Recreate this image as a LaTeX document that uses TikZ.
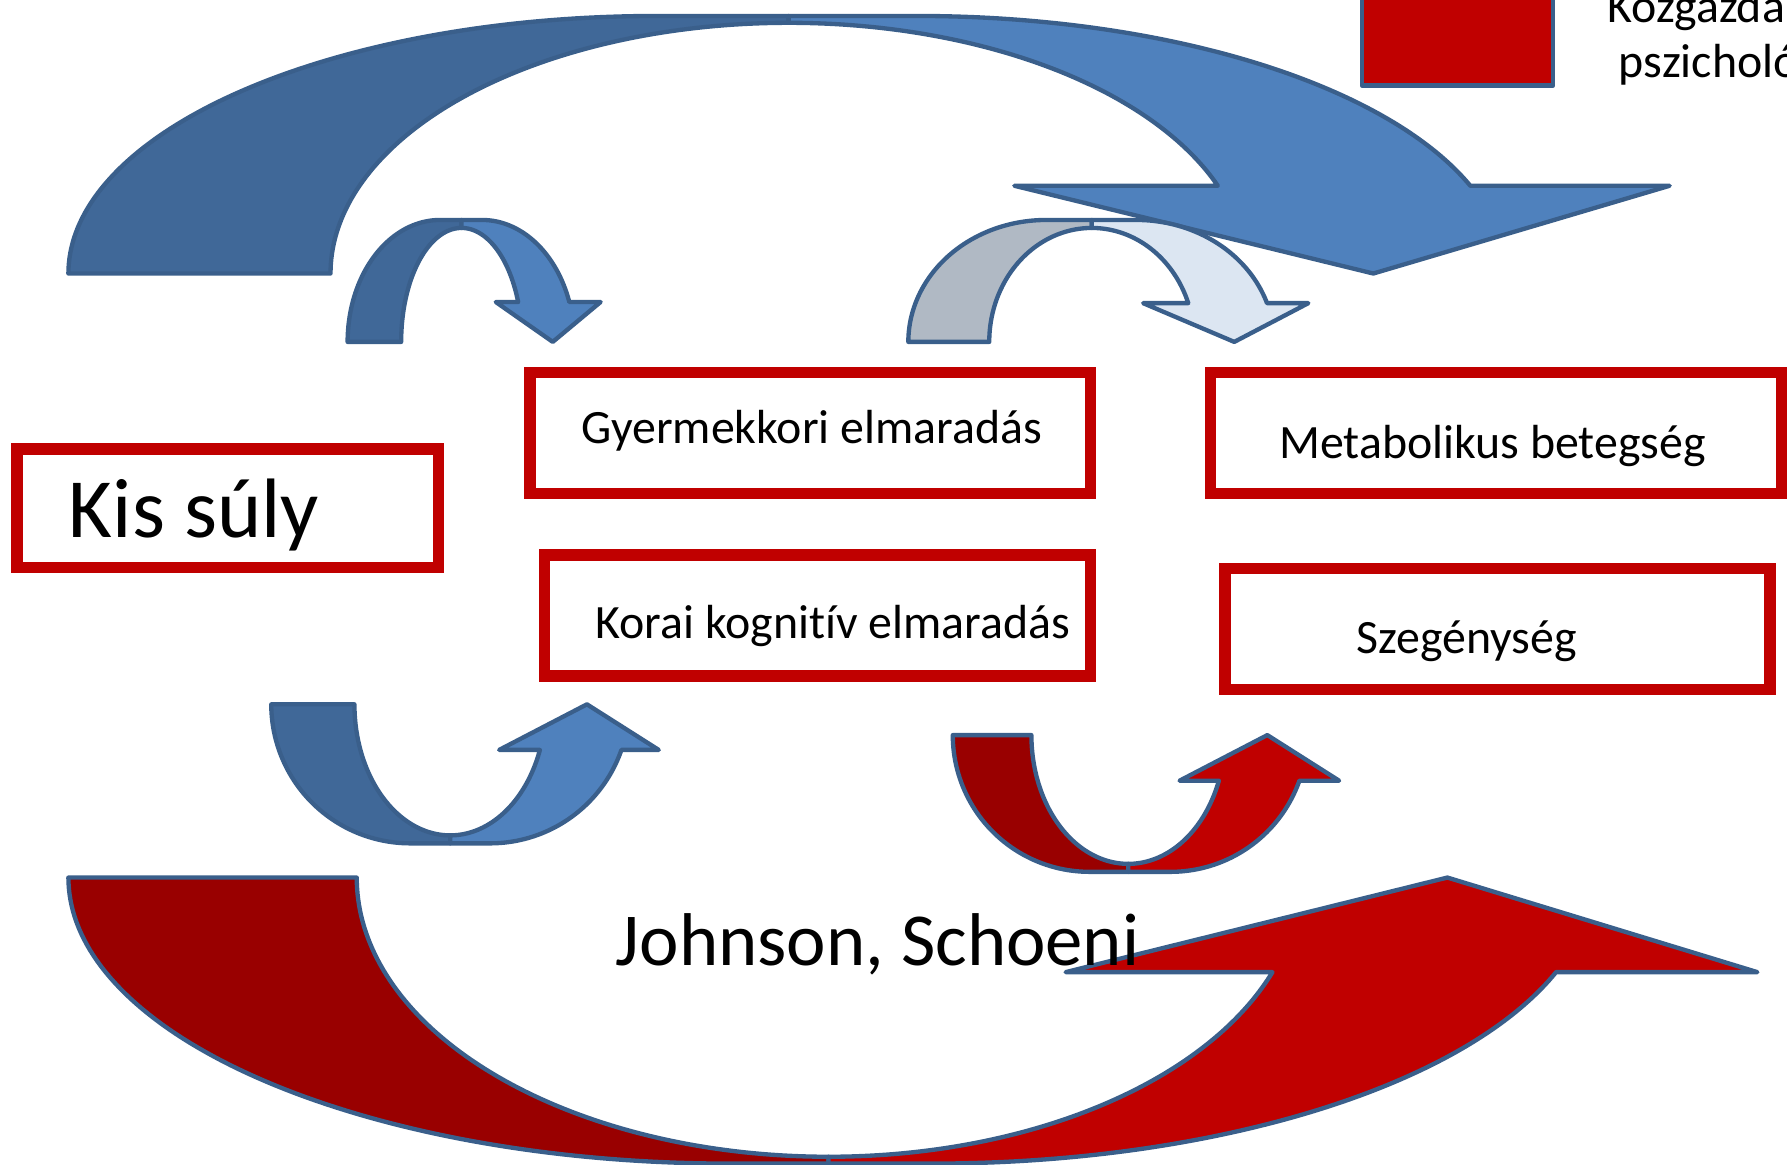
\documentclass[tikz,border=0pt]{standalone}
\usepackage{fontspec}
\setmainfont{Carlito}[Ligatures=NoCommon]
\definecolor{edge}{HTML}{3A5F8B}
\definecolor{bdark}{HTML}{406898}
\definecolor{blight}{HTML}{4F81BD}
\definecolor{greyband}{HTML}{B0B9C4}
\definecolor{paleband}{HTML}{DCE6F2}
\definecolor{rdark}{HTML}{990000}
\definecolor{rlight}{HTML}{C00000}
\begin{document}
\begin{tikzpicture}[x=0.5pt,y=-0.5pt,
  band/.style={draw=edge,line width=1.9pt,line join=round},
  redbox/.style={draw=rlight,line width=5pt,fill=white},
  boxtext/.style={font=\fontsize{21pt}{25pt}\selectfont,anchor=base west,inner sep=0pt},
  bigtext/.style={font=\fontsize{37pt}{44pt}\selectfont,anchor=base west,inner sep=0pt},
  legtext/.style={font=\fontsize{21pt}{25pt}\selectfont,anchor=base west,inner sep=0pt}]
\useasboundingbox (0,0) rectangle (1568,1022);
\clip (0,0) rectangle (1568,1022);

% ---- big top arrow (curved down) ----
\path[band,fill=bdark] plot[domain=180:90,samples=80] ({576+516*cos(\x)},{240-226*sin(\x)})
  -- (692,14) -- plot[domain=90:180,samples=80] ({692+402*cos(\x)},{240-220*sin(\x)}) -- cycle;
\path[band,fill=blight] (692,14) -- plot[domain=90:19.92,samples=80] ({805+516*cos(\x)},{240-226*sin(\x)})
  -- (1465,163) -- (1205,240) -- (890,163)
  -- plot[domain=20.49:90,samples=80] ({692+402*cos(\x)},{240-220*sin(\x)}) -- cycle;

% ---- small top-left arrow ----
\path[band,fill=bdark] plot[domain=180:90,samples=50] ({386+81*cos(\x)},{300-107*sin(\x)})
  -- (405,193) -- plot[domain=90:180,samples=50] ({405+53*cos(\x)},{300-100*sin(\x)}) -- cycle;
\path[band,fill=blight] (405,193) -- plot[domain=90:19.09,samples=50] ({423+81*cos(\x)},{300-107*sin(\x)})
  -- (527,265) -- (485,300) -- (435,265)
  -- plot[domain=20.49:90,samples=50] ({405+53*cos(\x)},{300-100*sin(\x)}) -- cycle;

% ---- small top-right arrow ----
\path[band,fill=greyband] plot[domain=180:90,samples=50] ({918+121*cos(\x)},{300-107*sin(\x)})
  -- (958,193) -- plot[domain=90:180,samples=50] ({958+90*cos(\x)},{300-100*sin(\x)}) -- cycle;
\path[band,fill=paleband] (958,193) -- plot[domain=90:18.53,samples=50] ({997+121*cos(\x)},{300-107*sin(\x)})
  -- (1148,266) -- (1083,300) -- (1003,266)
  -- plot[domain=19.88:90,samples=50] ({958+90*cos(\x)},{300-100*sin(\x)}) -- cycle;

% ---- small bottom-left arrow (curved up) ----
\path[band,fill=bdark] plot[domain=180:270,samples=50] ({360+122*cos(\x)},{618-122*sin(\x)})
  -- (395,740) -- plot[domain=270:180,samples=50] ({395+84*cos(\x)},{618-115*sin(\x)}) -- cycle;
\path[band,fill=blight] (395,740) -- plot[domain=270:340.86,samples=50] ({430+122*cos(\x)},{618-122*sin(\x)})
  -- (578,658) -- (515,618) -- (438,658)
  -- plot[domain=339.65:270,samples=50] ({395+84*cos(\x)},{618-115*sin(\x)}) -- cycle;

% ---- small bottom-right arrow (curved up, red) ----
\path[band,fill=rdark] plot[domain=180:270,samples=50] ({956+120*cos(\x)},{645-120*sin(\x)})
  -- (990,765) -- plot[domain=270:180,samples=50] ({990+85*cos(\x)},{645-113*sin(\x)}) -- cycle;
\path[band,fill=rlight] (990,765) -- plot[domain=270:340.53,samples=50] ({1027+120*cos(\x)},{645-120*sin(\x)})
  -- (1175,685) -- (1112,645) -- (1035,685)
  -- plot[domain=339.27:270,samples=50] ({990+85*cos(\x)},{645-113*sin(\x)}) -- cycle;

% ---- big bottom arrow (curved up, red) ----
\path[band,fill=rdark] plot[domain=180:270,samples=80] ({640+580*cos(\x)},{770-251*sin(\x)})
  -- (727,1021) -- plot[domain=270:180,samples=80] ({727+414*cos(\x)},{770-245*sin(\x)}) -- cycle;
\path[band,fill=rlight] (727,1021) -- plot[domain=270:340.69,samples=80] ({818+580*cos(\x)},{770-251*sin(\x)})
  -- (1542,853) -- (1270,770) -- (935,853)
  -- plot[domain=340.2:270,samples=80] ({727+414*cos(\x)},{770-245*sin(\x)}) -- cycle;

% ---- boxes ----
\draw[redbox] (15,394) rectangle (385,498);
\draw[redbox] (465,327) rectangle (957,433);
\draw[redbox] (1062,327) rectangle (1563,433);
\draw[redbox] (478,487) rectangle (957,593);
\draw[redbox] (1075,499) rectangle (1553,605);

\node[bigtext] (kis) at (60,472) {Kis súly};
\node[boxtext] (gyer) at (510,389) {Gyermekkori elmaradás};
\node[boxtext] (meta) at (1122,402) {Metabolikus betegség};
\node[boxtext] (korai) at (522,560) {Korai kognitív elmaradás};
\node[boxtext] (szeg) at (1190,573) {Szegénység};

% ---- legend ----
\draw[fill=rlight,draw=edge,line width=1.8pt,line join=round] (1195,-10) rectangle (1363,75);
\node[legtext] (leg1) at (1410,20) {Közgazda};
\node[legtext] (leg2) at (1420,68) {pszicholó};

% ---- author ----
\node[font=\fontsize{32.8pt}{40pt}\selectfont,anchor=base west,inner sep=0pt] (auth) at (540,847) {Johnson, Schoeni};
\end{tikzpicture}
\end{document}
